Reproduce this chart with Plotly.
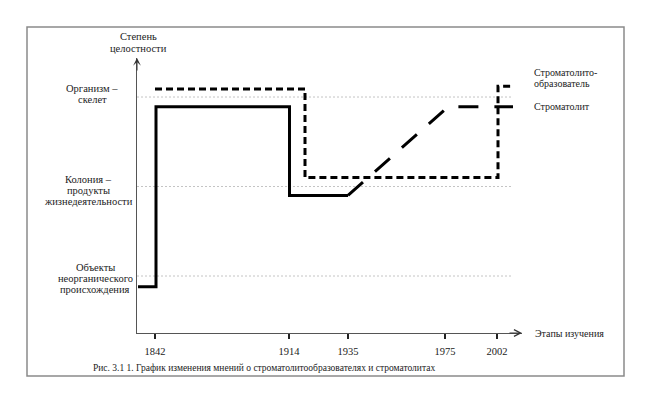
import plotly.graph_objects as go

# ---------------- data ----------------
years = ["1842", "1914", "1935", "1975", "2002"]
stage_pos = [18, 152, 211, 308, 360]          # stage positions along the axis

levels = [1, 2, 3]
level_labels = [
    "Объекты\nнеорганического\nпроисхождения",
    "Колония –\nпродукты\nжизнедеятельности",
    "Организм –\nскелет",
]

# Строматолит: solid part
strom_x = [1, 19, 19, 152.5, 152.5, 211]
strom_y = [0.88, 0.88, 2.89, 2.89, 1.9, 1.9]
# Строматолит: long-dashed part
strom2_x = [211, 311, 376]
strom2_y = [1.9, 2.89, 2.89]
# Строматолитообразователь
former_x = [18, 168, 168, 361, 361, 376]
former_y = [3.09, 3.09, 2.1, 2.1, 3.12, 3.12]

grid_x = [0, 375]

series_names = ["Строматолит", "Строматолито-\nобразователь"]
y_title = "Степень\nцелостности"
x_title = "Этапы изучения"
caption = "Рис. 3.1 1. График изменения мнений о строматолитообразователях и строматолитах"

# ---------------- layout geometry ----------------
FIG_W, FIG_H = 650, 401
L, R, T, B = 137, 128, 58, 68
PW, PH = FIG_W - L - R, FIG_H - T - B
FONT = "'Liberation Serif', 'DejaVu Serif', serif"
TXT = "#222222"


def px(xp):
    return (xp - L) / PW


def py(yp):
    return (FIG_H - B - yp) / PH


fig = go.Figure()

# gridlines
for lv in levels:
    fig.add_trace(go.Scatter(x=grid_x, y=[lv, lv], mode="lines",
                             line=dict(color="#c4c4c4", width=1, dash="2px,2px"),
                             hoverinfo="skip", showlegend=False))

fig.add_trace(go.Scatter(x=strom_x, y=strom_y, mode="lines",
                         line=dict(color="black", width=3), showlegend=False))
fig.add_trace(go.Scatter(x=strom2_x, y=strom2_y, mode="lines",
                         line=dict(color="black", width=3, dash="20px,16px"),
                         showlegend=False))
fig.add_trace(go.Scatter(x=former_x, y=former_y, mode="lines",
                         line=dict(color="black", width=3, dash="7px,4px"),
                         showlegend=False))

ann = []
LINE_H = 11

# level labels (centered blocks left of the y axis)
label_cx = [95, 88, 92]
label_shift = [-2, -3.5, 3.5]
for lv, lab, cx, sh in zip(levels, level_labels, label_cx, label_shift):
    lines = lab.split("\n")
    n = len(lines)
    for i, ln in enumerate(lines):
        off = ((n - 1) / 2 - i) * LINE_H + sh
        ann.append(dict(text=ln, xref="paper", yref="y", x=px(cx), y=lv,
                        yshift=off, xanchor="center", yanchor="middle",
                        showarrow=False, font=dict(family=FONT, size=10.5, color=TXT)))

# y title
for i, ln in enumerate(y_title.split("\n")):
    ann.append(dict(text=ln, xref="paper", yref="paper", x=px(138), y=py(37 + i * LINE_H),
                    xanchor="center", yanchor="middle", showarrow=False,
                    font=dict(family=FONT, size=10.5, color=TXT)))

# x title
ann.append(dict(text=x_title, xref="paper", yref="paper", x=px(533), y=py(333),
                xanchor="left", yanchor="middle", showarrow=False,
                font=dict(family=FONT, size=10, color=TXT)))

# series labels
ann.append(dict(text=series_names[0], xref="x", yref="y", x=strom2_x[-1], y=strom2_y[-1],
                xshift=19, xanchor="left", yanchor="middle", showarrow=False,
                font=dict(family=FONT, size=10, color=TXT)))
for i, ln in enumerate(series_names[1].split("\n")):
    ann.append(dict(text=ln, xref="x", yref="y", x=former_x[-1], y=former_y[-1],
                    xshift=19, yshift=14 - i * LINE_H, xanchor="left", yanchor="middle",
                    showarrow=False, font=dict(family=FONT, size=10, color=TXT)))

# caption
ann.append(dict(text=caption, xref="paper", yref="paper", x=px(263.5), y=py(368),
                xanchor="center", yanchor="middle", showarrow=False,
                font=dict(family=FONT, size=9.5, color=TXT)))

# axis arrows
ann.append(dict(text="", xref="paper", yref="paper", x=1, y=0, ax=-14, ay=0,
                showarrow=True, arrowhead=5, arrowsize=1.3, arrowwidth=1,
                arrowcolor="#333333", standoff=0))
ann.append(dict(text="", xref="paper", yref="paper", x=0, y=1, ax=0, ay=14,
                showarrow=True, arrowhead=3, arrowsize=1.3, arrowwidth=1,
                arrowcolor="#333333", standoff=0))

fig.update_layout(
    width=FIG_W, height=FIG_H,
    margin=dict(l=L, r=R, t=T, b=B),
    paper_bgcolor="white", plot_bgcolor="white",
    showlegend=False,
    font=dict(family=FONT, color=TXT),
    annotations=ann,
    shapes=[dict(type="rect", xref="paper", yref="paper",
                 x0=px(27), x1=px(624), y0=py(376), y1=py(27),
                 line=dict(color="#8a8a8a", width=1.5), layer="below")],
    xaxis=dict(range=[0, PW], showgrid=False, zeroline=False, showline=True,
               linecolor="#555555", linewidth=1,
               tickmode="array", tickvals=stage_pos, ticktext=years,
               ticks="outside", ticklen=5, tickwidth=2, tickcolor="#222222",
               ticklabelstandoff=3,
               tickfont=dict(family=FONT, size=10.5, color=TXT), fixedrange=True),
    yaxis=dict(range=[0.363, 3.436], showgrid=False, zeroline=False, showline=True,
               linecolor="#555555", linewidth=1, showticklabels=False, ticks="",
               fixedrange=True),
)

fig.write_html("out.html")
